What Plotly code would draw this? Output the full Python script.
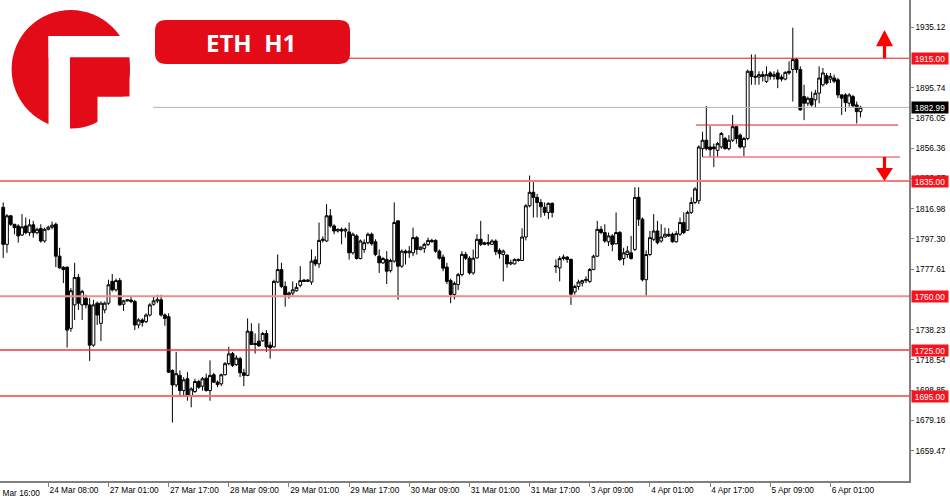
import plotly.graph_objects as go

# ---------------- data (ETH H1) ----------------
opens = [1817.9,1793.8,1812.4,1806.9,1805.8,1799.9,1805.8,1801.4,1806.5,1801.4,
 1804.1,1796.0,1803.6,1805.0,1806.9,1786.1,1778.9,1778.9,1739.1,1754.4,
 1772.3,1754.4,1758.8,1754.4,1728.2,1755.5,1742.4,1751.1,1755.5,1769.7,
 1764.2,1770.2,1754.8,1757.0,1757.6,1756.6,1741.3,1744.6,1743.5,1747.8,
 1754.8,1757.0,1757.7,1747.8,1746.7,1711.7,1702.3,1708.5,1698.6,1706.3,
 1695.3,1698.0,1704.5,1701.5,1706.7,1698.6,1708.9,1704.1,1703.0,1708.9,
 1716.1,1722.7,1715.5,1719.4,1710.2,1708.5,1736.9,1729.3,1730.8,1731.0,
 1735.8,1728.2,1727.1,1769.3,1777.4,1766.4,1761.0,1762.1,1763.6,1767.1,
 1770.6,1769.7,1769.3,1783.7,1781.1,1796.4,1796.0,1812.4,1805.8,1802.5,
 1803.6,1802.5,1801.9,1788.3,1799.3,1784.6,1790.5,1794.9,1800.4,1795.5,
 1786.1,1781.8,1784.0,1776.7,1782.9,1809.1,1779.6,1789.4,1788.3,1788.3,
 1798.2,1790.5,1791.2,1793.8,1796.4,1796.4,1789.4,1785.5,1779.0,1770.2,
 1761.2,1767.6,1774.1,1787.3,1784.8,1775.2,1785.0,1797.1,1793.8,1794.9,
 1793.8,1796.0,1789.9,1787.2,1786.8,1781.1,1781.1,1784.0,1783.3,1798.6,
 1818.9,1827.7,1824.4,1821.1,1817.9,1814.6,1820.5,1779.2,1778.5,1784.6,
 1785.5,1784.0,1762.8,1766.4,1768.6,1770.2,1769.7,1777.4,1786.1,1803.6,
 1801.5,1795.5,1799.3,1794.2,1801.5,1784.6,1787.2,1788.3,1790.5,1824.4,
 1810.2,1770.8,1787.2,1797.1,1802.5,1796.0,1798.6,1800.4,1800.4,1795.5,
 1800.4,1808.0,1803.0,1814.6,1821.1,1822.2,1856.1,1861.6,1857.2,1857.2,
 1855.0,1857.2,1862.7,1856.1,1861.6,1870.4,1864.9,1857.2,1862.7,1906.5,
 1903.2,1902.7,1904.3,1899.9,1905.4,1903.2,1905.4,1902.7,1901.4,1906.5,
 1907.6,1914.1,1907.6,1890.0,1885.7,1888.9,1887.9,1892.2,1897.7,1903.6,
 1901.4,1902.1,1900.9,1891.1,1891.1,1885.7,1890.0,1884.6,1880.2]
highs = [1821.1,1813.5,1813.0,1806.9,1806.9,1813.5,1811.3,1810.2,1809.1,1804.7,
 1806.9,1804.7,1806.0,1808.7,1808.0,1791.6,1779.6,1779.6,1765.3,1781.8,
 1774.5,1764.2,1761.0,1758.8,1757.7,1756.6,1756.6,1756.6,1770.8,1774.5,
 1771.5,1771.9,1757.7,1758.0,1759.9,1757.7,1745.7,1745.7,1748.9,1755.5,
 1759.9,1761.0,1761.0,1748.9,1748.9,1712.4,1723.8,1711.7,1707.4,1710.6,
 1700.8,1706.3,1705.6,1707.4,1709.6,1718.3,1710.2,1705.2,1709.6,1717.2,
 1727.1,1723.8,1721.6,1720.5,1712.8,1745.6,1742.4,1735.8,1742.4,1736.9,
 1738.0,1730.4,1770.8,1787.2,1781.8,1769.7,1763.1,1769.7,1768.6,1779.6,
 1771.1,1771.0,1790.5,1786.1,1808.0,1799.0,1820.0,1816.8,1806.9,1804.2,
 1804.7,1804.7,1808.0,1801.5,1800.4,1797.0,1797.1,1801.5,1801.5,1797.1,
 1790.5,1785.5,1789.4,1784.5,1821.1,1809.5,1790.5,1790.5,1792.7,1804.7,
 1799.3,1792.5,1794.9,1798.2,1797.5,1797.1,1790.5,1787.2,1781.8,1771.5,
 1769.7,1775.2,1789.4,1789.0,1786.1,1790.5,1800.4,1809.1,1795.5,1800.4,
 1797.1,1797.1,1791.2,1790.5,1787.2,1783.9,1784.6,1784.6,1804.3,1820.0,
 1838.6,1834.3,1826.6,1823.3,1821.1,1821.1,1821.1,1784.0,1786.1,1787.2,
 1786.1,1784.6,1767.5,1770.8,1770.8,1773.0,1778.5,1787.0,1809.1,1805.8,
 1806.9,1801.5,1800.4,1814.6,1802.5,1791.6,1792.7,1799.3,1831.0,1831.0,
 1811.3,1789.9,1802.5,1813.5,1809.1,1806.9,1804.7,1804.3,1801.5,1802.5,
 1811.3,1814.6,1815.7,1824.4,1831.0,1858.3,1867.1,1883.9,1870.8,1859.4,
 1860.5,1867.0,1863.8,1864.9,1878.0,1870.9,1866.0,1863.8,1907.6,1917.4,
 1917.4,1906.5,1906.5,1909.7,1906.5,1906.5,1907.6,1904.3,1906.5,1913.0,
 1934.9,1915.2,1909.7,1897.7,1890.0,1893.3,1894.4,1909.7,1908.6,1905.4,
 1905.4,1904.3,1902.1,1891.6,1892.2,1892.2,1891.1,1886.8,1884.0]
lows = [1785.0,1788.3,1805.8,1800.4,1794.9,1799.3,1800.4,1799.3,1798.2,1800.4,
 1794.9,1794.9,1802.9,1803.6,1779.0,1778.0,1768.6,1726.6,1736.9,1744.6,
 1751.1,1744.6,1752.2,1717.9,1727.1,1741.3,1730.8,1748.9,1754.4,1763.1,
 1763.1,1753.9,1750.5,1756.5,1755.5,1738.0,1739.1,1740.2,1742.4,1746.8,
 1753.9,1755.5,1746.8,1740.8,1710.2,1677.8,1700.8,1695.3,1695.3,1692.0,
 1687.7,1697.1,1699.7,1698.6,1698.0,1692.0,1703.6,1700.8,1701.5,1708.5,
 1715.0,1714.0,1714.6,1707.4,1701.5,1708.0,1728.2,1722.7,1727.1,1730.4,
 1723.8,1719.4,1726.6,1768.6,1765.3,1753.3,1758.4,1759.9,1763.1,1765.8,
 1769.3,1769.3,1767.5,1779.6,1778.5,1795.0,1795.5,1804.7,1800.4,1801.5,
 1793.8,1798.2,1783.9,1787.2,1783.9,1784.0,1788.3,1793.8,1793.0,1786.1,
 1775.2,1781.0,1768.0,1775.5,1781.8,1757.7,1778.5,1780.7,1785.0,1786.1,
 1787.2,1789.9,1788.3,1792.7,1795.0,1788.3,1783.9,1776.3,1768.0,1755.5,
 1758.0,1764.0,1773.0,1783.5,1774.1,1774.1,1784.6,1792.7,1793.3,1792.7,
 1793.4,1786.8,1784.6,1769.7,1778.5,1780.2,1780.7,1782.5,1783.0,1796.4,
 1817.9,1811.3,1811.3,1811.3,1812.4,1810.2,1811.3,1775.2,1769.7,1783.3,
 1781.8,1754.4,1761.0,1764.2,1766.4,1768.6,1768.6,1777.0,1785.5,1800.4,
 1794.9,1792.7,1789.4,1793.8,1782.9,1780.2,1785.0,1783.9,1789.4,1805.8,
 1769.7,1760.5,1786.1,1796.0,1793.8,1794.9,1798.2,1798.6,1794.9,1794.9,
 1799.3,1800.4,1802.5,1813.5,1820.0,1820.0,1850.7,1855.0,1850.7,1844.1,
 1850.7,1856.1,1855.5,1855.0,1860.5,1859.4,1856.1,1851.1,1861.6,1897.7,
 1897.7,1897.7,1899.9,1898.8,1901.0,1901.0,1895.5,1899.9,1900.6,1904.3,
 1886.8,1905.4,1880.9,1874.7,1883.9,1883.5,1883.0,1885.7,1896.6,1897.7,
 1898.8,1898.8,1889.0,1878.0,1880.2,1883.5,1883.0,1872.5,1876.5]
closes = [1793.8,1812.4,1806.9,1804.7,1799.3,1805.2,1801.4,1806.5,1801.4,1803.6,
 1796.0,1803.6,1805.0,1806.3,1786.1,1778.5,1777.4,1738.0,1763.6,1772.3,
 1755.5,1763.2,1754.4,1728.2,1754.4,1747.8,1755.5,1755.5,1767.5,1764.2,
 1770.2,1754.4,1757.0,1757.7,1756.6,1741.3,1744.6,1743.0,1747.8,1754.4,
 1757.0,1757.7,1747.8,1745.6,1710.6,1702.3,1709.6,1698.6,1705.6,1695.3,
 1699.7,1704.5,1700.8,1706.3,1698.6,1708.5,1704.1,1702.5,1708.9,1716.1,
 1722.5,1715.0,1719.8,1710.2,1708.5,1737.3,1728.6,1728.6,1727.7,1735.8,
 1727.1,1726.4,1769.7,1777.4,1766.4,1761.0,1762.1,1764.2,1765.8,1770.2,
 1769.7,1770.6,1782.9,1781.1,1796.4,1797.1,1812.4,1805.8,1802.5,1803.6,
 1802.5,1803.6,1788.3,1800.4,1784.6,1796.0,1794.9,1800.4,1794.2,1787.2,
 1781.8,1784.6,1776.3,1783.3,1808.0,1779.6,1789.4,1788.3,1789.4,1798.2,
 1790.5,1792.0,1793.8,1796.4,1795.5,1789.4,1784.8,1778.3,1769.7,1761.2,
 1768.4,1774.1,1787.3,1784.8,1775.2,1784.8,1797.1,1793.8,1794.9,1794.2,
 1796.0,1789.0,1787.7,1789.4,1781.1,1782.0,1784.0,1783.3,1798.6,1818.9,
 1827.7,1824.4,1821.1,1818.3,1814.6,1820.5,1814.6,1779.6,1784.6,1785.5,
 1784.0,1761.4,1766.4,1769.3,1770.2,1771.0,1777.4,1786.1,1803.6,1801.5,
 1796.0,1799.3,1793.8,1801.5,1783.9,1788.3,1789.4,1784.6,1824.4,1810.2,
 1770.8,1787.2,1798.2,1802.5,1794.9,1798.6,1800.4,1799.3,1795.5,1800.8,
 1808.0,1801.5,1814.6,1821.1,1829.9,1857.2,1861.6,1856.1,1855.5,1856.1,
 1859.4,1866.0,1856.1,1861.6,1870.4,1862.7,1857.2,1862.7,1906.5,1903.2,
 1902.7,1904.3,1903.2,1904.3,1903.2,1904.3,1901.4,1901.4,1905.8,1905.4,
 1914.1,1907.6,1881.3,1885.7,1888.9,1884.6,1892.2,1902.1,1905.4,1898.8,
 1903.2,1900.0,1891.1,1889.0,1886.1,1891.1,1884.0,1880.2,1883.0]

tick_bars = [12, 28, 44, 60, 76, 92, 108, 124, 140, 156, 172, 188, 204, 220]
tick_labels = ["24 Mar 08:00", "27 Mar 01:00", "27 Mar 17:00", "28 Mar 09:00",
               "29 Mar 01:00", "29 Mar 17:00", "30 Mar 09:00", "31 Mar 01:00",
               "31 Mar 17:00", "3 Apr 09:00", "4 Apr 01:00", "4 Apr 17:00",
               "5 Apr 09:00", "6 Apr 01:00"]
first_label_bar = -4
first_label = "23 Mar 16:00"

price_ticks = [1935.12, 1895.74, 1876.05, 1856.36, 1836.67, 1816.98,
               1797.30, 1777.61, 1738.23, 1718.54, 1698.85, 1679.16, 1659.47]

level_top = 1915.00
levels = [1835.00, 1760.00, 1725.00, 1695.00]
bid_price = 1882.99
range_hi = 1871.5
range_lo = 1850.7
symbol_text = "ETH\u00a0\u00a0H1"

# ---------------- layout geometry ----------------
W, H = 950, 500
ML, MR, MT, MB = 0, 41, 0, 19
PW, PH = W - ML - MR, H - MT - MB
BAR_X0, BAR_DX = 3.2, 3.76           # pixel position of first bar, bar spacing
X_RANGE = [-BAR_X0 / BAR_DX, (PW - BAR_X0) / BAR_DX]
Y_RANGE = [1639.74, 1952.9]

RED = "#e30b17"
FONT = "Liberation Sans"


def px(x):
    return x / PW


def py(y):
    return 1 - y / PH


n = len(closes)
xs = list(range(n))

fig = go.Figure()
fig.add_trace(go.Candlestick(
    x=xs, open=opens, high=highs, low=lows, close=closes,
    increasing=dict(line=dict(color="#000000", width=1), fillcolor="#ffffff"),
    decreasing=dict(line=dict(color="#000000", width=1), fillcolor="#000000"),
    whiskerwidth=0, showlegend=False, hoverinfo="skip"))

shapes = []
# horizontal levels
shapes.append(dict(type="line", xref="paper", yref="y", x0=px(347), x1=1,
                   y0=level_top, y1=level_top, line=dict(color="#e8141c", width=1)))
lvl_style = {1835.00: ("#f47c7c", 2), 1760.00: ("#f58a8a", 2),
             1725.00: ("#f0353f", 1.5), 1695.00: ("#f47272", 2)}
for lv in levels:
    c, w = lvl_style[lv]
    shapes.append(dict(type="line", xref="paper", yref="y", x0=0, x1=1,
                       y0=lv, y1=lv, line=dict(color=c, width=w)))
shapes.append(dict(type="line", xref="paper", yref="y", x0=px(153), x1=1,
                   y0=bid_price, y1=bid_price, line=dict(color="#b4b4b4", width=1)))
shapes.append(dict(type="line", xref="paper", yref="y", x0=px(696), x1=px(898),
                   y0=range_hi, y1=range_hi, line=dict(color="#d81e1e", width=1)))
shapes.append(dict(type="line", xref="paper", yref="y", x0=px(703), x1=px(900),
                   y0=range_lo, y1=range_lo, line=dict(color="#f27c7c", width=1.6)))

# arrows (x in pixels of plot, y in price)
ax_c, ax_hw, ax_sw = 884.5, 8.5, 1.6
def arrow(base, head_base, tip):
    pts = [(ax_c - ax_hw, head_base), (ax_c, tip), (ax_c + ax_hw, head_base),
           (ax_c + ax_sw, head_base), (ax_c + ax_sw, base),
           (ax_c - ax_sw, base), (ax_c - ax_sw, head_base)]
    d = "M " + " L ".join(f"{px(a):.5f},{b:.3f}" for a, b in pts) + " Z"
    return dict(type="path", xref="paper", yref="y", path=d,
                fillcolor="#ff0000", line=dict(width=0))
shapes.append(arrow(level_top, 1922.8, 1933.3))
shapes.append(arrow(range_lo, 1843.5, 1835.0))

# logo
shapes.append(dict(type="circle", xref="paper", yref="paper",
                   x0=px(11.6), x1=px(130.0), y0=py(128.4), y1=py(10.0),
                   fillcolor=RED, line=dict(width=0)))
for (x0, y0, x1, y1, col) in [(48.5, 36.0, 136.0, 57.5, "#ffffff"),
                              (48.5, 36.0, 70.0, 131.0, "#ffffff"),
                              (97.5, 96.5, 136.0, 131.0, "#ffffff"),
                              (70.0, 57.5, 129.5, 96.5, RED)]:
    shapes.append(dict(type="rect", xref="paper", yref="paper",
                       x0=px(x0), x1=px(x1), y0=py(y1), y1=py(y0),
                       fillcolor=col, line=dict(width=0)))

# rounded symbol box
bx0, by0, bx1, by1, r = 155, 20, 350, 64, 11
def P(x, y):
    return f"{px(x):.5f},{py(y):.5f}"
rr = (f"M {P(bx0 + r, by0)} L {P(bx1 - r, by0)} Q {P(bx1, by0)} {P(bx1, by0 + r)} "
      f"L {P(bx1, by1 - r)} Q {P(bx1, by1)} {P(bx1 - r, by1)} L {P(bx0 + r, by1)} "
      f"Q {P(bx0, by1)} {P(bx0, by1 - r)} L {P(bx0, by0 + r)} Q {P(bx0, by0)} {P(bx0 + r, by0)} Z")
shapes.append(dict(type="path", xref="paper", yref="paper", path=rr,
                   fillcolor=RED, line=dict(width=0)))

annotations = []
annotations.append(dict(xref="paper", yref="paper", x=px(251), y=py(42),
                        text=f"<b>{symbol_text}</b>", showarrow=False,
                        font=dict(family="Open Sans", size=24, color="#ffffff"),
                        xanchor="center", yanchor="middle"))
# price labels on the right axis
for lv in [level_top] + levels:
    annotations.append(dict(xref="paper", yref="y", x=1, y=lv, xanchor="left",
                            xshift=2, text=f"{lv:.2f}", showarrow=False,
                            bgcolor="#f5141e", width=36, height=11, borderpad=0,
                            font=dict(family=FONT, size=8.3, color="#ffffff")))
annotations.append(dict(xref="paper", yref="y", x=1, y=bid_price, xanchor="left",
                        xshift=2, text=f"{bid_price:.2f}", showarrow=False,
                        bgcolor="#000000", width=36, height=11, borderpad=0,
                        font=dict(family=FONT, size=8.3, color="#ffffff")))
# partially hidden first time label
annotations.append(dict(xref="paper", yref="paper",
                        x=px(BAR_X0 + first_label_bar * BAR_DX + 1), y=0,
                        yshift=-5, text=first_label, showarrow=False,
                        xanchor="left", yanchor="top",
                        font=dict(family=FONT, size=8.3, color="#000000")))

fig.update_layout(
    width=W, height=H, autosize=False,
    margin=dict(l=ML, r=MR, t=MT, b=MB, pad=0),
    paper_bgcolor="#ffffff", plot_bgcolor="#ffffff",
    boxgap=0.25, boxgroupgap=0,
    shapes=shapes, annotations=annotations, showlegend=False,
    xaxis=dict(range=X_RANGE, tickmode="array", tickvals=tick_bars,
               ticktext=tick_labels, ticks="outside", ticklen=4,
               tickcolor="#808080", tickwidth=1, showline=True,
               linecolor="#808080", linewidth=1.5, showgrid=False,
               zeroline=False, rangeslider=dict(visible=False),
               ticklabelposition="outside right",
               tickfont=dict(family=FONT, size=8.3, color="#000000")),
    yaxis=dict(range=Y_RANGE, side="right", tickmode="array",
               tickvals=price_ticks, ticktext=[f"{v:.2f}" for v in price_ticks],
               ticks="outside", ticklen=3, tickcolor="#808080", showline=True,
               linecolor="#808080", linewidth=1.5, showgrid=False,
               zeroline=False,
               tickfont=dict(family=FONT, size=8.3, color="#000000")),
)

fig.write_html("out.html", config={"displayModeBar": False},
               post_script="document.body.style.margin='0px';"
                           "document.body.style.overflow='hidden';")
